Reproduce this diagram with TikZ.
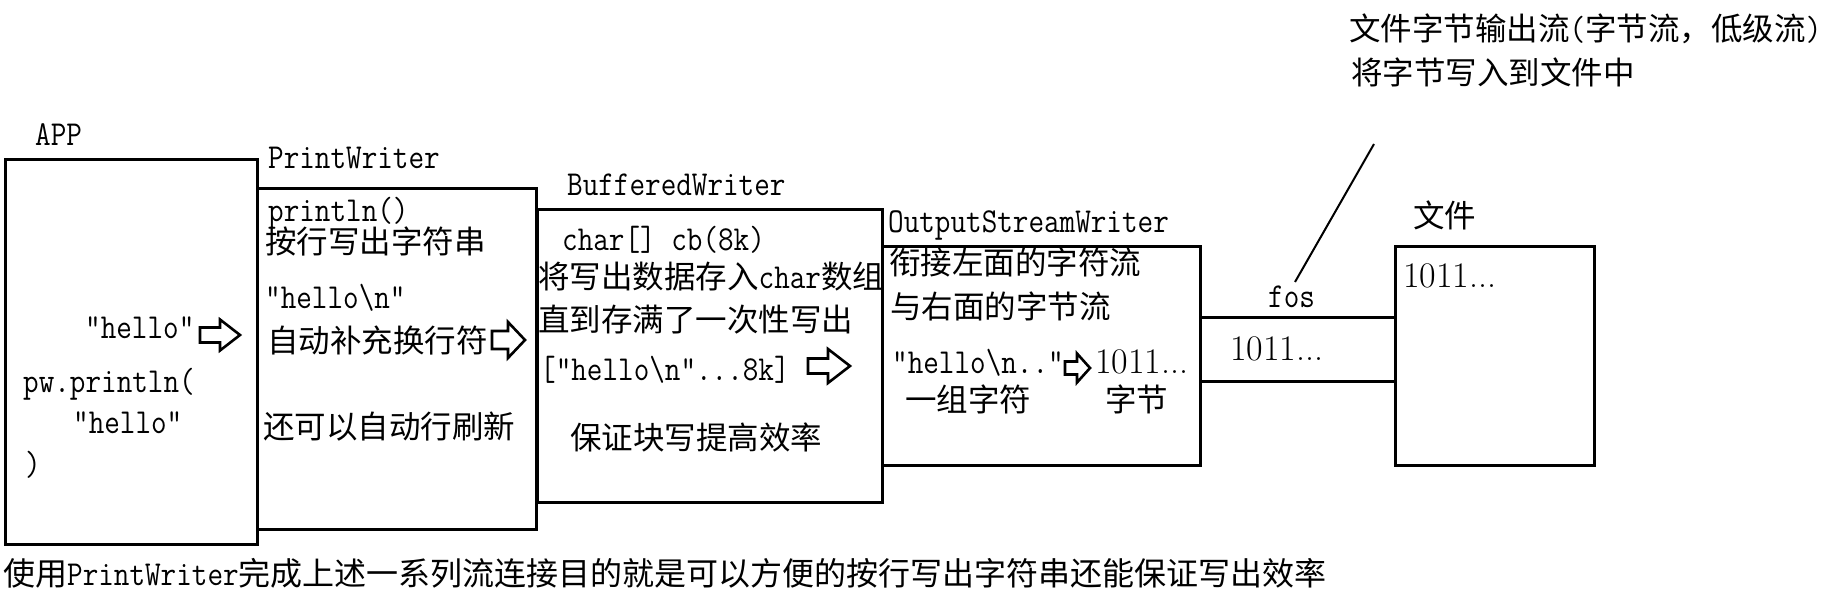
\documentclass[tikz,border=0pt]{standalone}
\usepackage{fontspec}
\newfontfamily\cjkfam{Noto Sans CJK SC}
\newcommand\zhf{\cjkfam\fontsize{31.5}{38}\selectfont}
\newcommand\zhcap{\cjkfam\fontsize{32}{38}\selectfont}
\newcommand\monof{\ttfamily\fontsize{35}{40}\selectfont}
\newcommand\mt[1]{\scalebox{0.865}[1]{\monof #1}}
\newcommand\seriff{\rmfamily\fontsize{36}{40}\selectfont}
\begin{document}
\begin{tikzpicture}[x=1pt,y=-1pt,
  box/.style={draw=black, line width=3pt, inner sep=0pt},
  zh/.style={anchor=west, inner sep=0pt, font=\zhf, text height=27.7pt, text depth=3.8pt},
  mono/.style={anchor=base west, inner sep=0pt, font=\monof},
  ser/.style={anchor=base west, inner sep=0pt, font=\seriff},
  arrowline/.style={draw=black, fill=white, line width=2.6pt, line join=miter},
  pics/blockarrow/.style n args={4}{code={
    \draw[arrowline] (0,-#2) -- (#1,-#2) -- (#1,-#4) -- (#1+#3,0) -- (#1,#4) -- (#1,#2) -- (0,#2) -- cycle;}}
]
\fill[white] (0,0) rectangle (1829,613);
\useasboundingbox (0,0) rectangle (1829,613);

% boxes
\node[box, minimum width=252pt, minimum height=385pt] (app) at (131,351.5) {};
\node[box, minimum width=279pt, minimum height=341pt] (pw) at (396.5,358.5) {};
\node[box, minimum width=345pt, minimum height=293pt] (bw) at (709.5,355.5) {};
\node[box, minimum width=318pt, minimum height=219pt] (osw) at (1041,355.5) {};
\node[box, minimum width=199pt, minimum height=219pt] (file) at (1494.5,355.5) {};

% fos pipe
\draw[line width=3pt] (osw.east |- 0,317) -- (file.west |- 0,317);
\draw[line width=3pt] (osw.east |- 0,381) -- (file.west |- 0,381);

% titles
\node[mono] (tApp) at (35,145) {\mt{APP}};
\node[mono] (tPw) at (268,168) {\mt{PrintWriter}};
\node[mono] (tBw) at (567,195) {\mt{BufferedWriter}};
\node[mono] (tOsw) at (888,232) {\mt{OutputStreamWriter}};
\node[zh] (tFile) at (1413,216) {文件};
\node[mono] (tFos) at (1268,307) {\mt{fos}};

% APP content
\node[mono] (a1) at (85,338) {\mt{"hello"}};
\pic at (200,335) {blockarrow={20}{7.5}{20}{15.5}};
\node[mono] (a2) at (23,392) {\mt{pw.println(}};
\node[mono] (a3) at (73,433) {\mt{"hello"}};
\node[mono] (a4) at (25,475) {\mt{)}};

% PrintWriter content
\node[mono] (p1) at (268,221) {\mt{println()}};
\node[zh] (p2) at (265,242) {按行写出字符串};
\node[mono] (p3) at (265,308) {\mt{"hello\textbackslash n"}};
\node[zh] (p4) at (267,341) {自动补充换行符};
\pic at (492,340) {blockarrow={16}{9}{17}{18}};
\node[zh] (p5) at (263,427) {还可以自动行刷新};

% BufferedWriter content
\node[mono] (b1) at (562,250) {\mt{char[] cb(8k)}};
\node[zh] (b2) at (538,277) {将写出数据存入\mt{char}数组};
\node[zh] (b3) at (538,320) {直到存满了一次性写出};
\node[mono] (b4) at (540,380) {\mt{["hello\textbackslash n"...8k]}};
\pic at (808,366) {blockarrow={20}{7.5}{22}{17}};
\node[zh] (b5) at (570,438) {保证块写提高效率};

% OutputStreamWriter content
\node[zh] (o1) at (889,263) {衔接左面的字符流};
\node[zh] (o2) at (890,307) {与右面的字节流};
\node[mono] (o3) at (892,373) {\mt{"hello\textbackslash n.."}};
\pic at (1065,368) {blockarrow={12}{6.5}{13}{14.5}};
\node[ser] (o4) at (1095,373) {1011...};
\node[zh] (o5) at (905,400) {一组字符};
\node[zh] (o6) at (1105,400) {字节};

% fos and file content
\node[ser] (f1) at (1230,360) {1011...};
\node[ser] (fl1) at (1403,287) {1011...};

% annotation
\node[zh] (n1) at (1349,29) {文件字节输出流\mt{(}字节流，低级流\mt{)}};
\node[zh] (n2) at (1351,73) {将字节写入到文件中};
\coordinate (annTop) at (1374,144);
\coordinate (annBot) at (1295,282);
\draw[line width=2pt] (annTop) -- (annBot);

% bottom caption
\node[zh, font=\zhcap] (cap) at (3,574) {使用\mt{PrintWriter}完成上述一系列流连接目的就是可以方便的按行写出字符串还能保证写出效率};
\end{tikzpicture}
\end{document}
